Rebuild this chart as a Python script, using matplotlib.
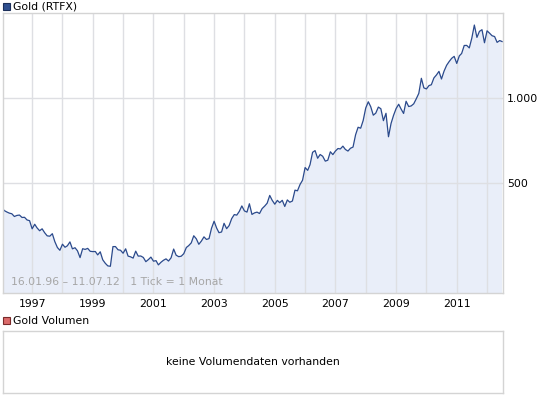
import matplotlib
matplotlib.use('Agg')
import matplotlib.dates as mdates
import matplotlib.pyplot as plt
import matplotlib.ticker as ticker
import pandas as pd
from matplotlib.patches import Rectangle

# Gold (RTFX), month-end values in USD, one tick per month
gold_1996 = [405.6, 400.7, 396.4, 392.6, 390.6, 382.0, 385.3, 386.5, 379.0, 379.5, 371.3, 369.3]
gold_1997 = [345.5, 358.6, 348.2, 340.2, 345.6, 334.6, 326.4, 325.4, 332.1, 311.4, 296.8, 290.2]
gold_1998 = [304.9, 297.4, 301.0, 310.7, 293.6, 296.3, 288.9, 273.4, 293.9, 292.3, 294.7, 287.8]
gold_1999 = [287.1, 287.3, 279.5, 286.6, 268.6, 261.0, 255.6, 254.8, 299.0, 299.1, 291.4, 290.3]
gold_2000 = [283.3, 293.7, 276.8, 275.1, 272.3, 288.2, 276.8, 277.0, 273.7, 264.5, 269.1, 274.5]
gold_2001 = [265.6, 266.7, 257.7, 263.2, 267.5, 270.6, 265.9, 273.0, 293.1, 278.8, 275.5, 276.5]
gold_2002 = [282.3, 296.9, 301.4, 308.2, 326.6, 318.5, 304.7, 312.8, 323.7, 316.9, 319.1, 347.2]
gold_2003 = [367.5, 347.5, 334.9, 336.8, 361.4, 346.0, 354.8, 375.6, 388.0, 386.3, 398.4, 416.3]
gold_2004 = [399.8, 395.9, 423.7, 388.5, 393.3, 395.8, 391.4, 407.3, 415.7, 425.6, 453.4, 435.6]
gold_2005 = [422.2, 435.5, 427.5, 435.7, 414.5, 437.1, 429.0, 433.3, 473.3, 470.8, 495.7, 513.0]
gold_2006 = [568.8, 556.0, 582.0, 644.0, 653.0, 613.5, 632.5, 623.5, 599.3, 603.8, 646.7, 632.0]
gold_2007 = [650.5, 664.2, 661.8, 677.0, 659.1, 650.5, 665.5, 672.0, 743.0, 789.5, 783.5, 833.8]
gold_2008 = [923.3, 971.5, 933.5, 871.0, 885.8, 930.3, 918.0, 833.0, 884.5, 730.8, 814.5, 869.8]
gold_2009 = [919.5, 952.0, 916.5, 883.3, 975.5, 934.5, 939.0, 955.5, 995.8, 1040.0, 1175.8, 1087.5]
gold_2010 = [1078.5, 1108.3, 1115.5, 1179.3, 1207.5, 1244.0, 1169.0, 1246.0, 1307.0, 1346.8, 1383.5, 1405.5]
gold_2011 = [1327.0, 1411.0, 1439.0, 1535.5, 1536.5, 1505.5, 1628.5, 1813.5, 1640.0, 1722.0, 1746.0, 1570.0]
gold_2012 = [1730.0, 1696.3, 1662.5, 1651.3, 1575.0, 1598.5, 1585.0]

year_ticks = list(range(1997, 2013))
year_labels = [str(y) if y % 2 else '' for y in year_ticks]
price_ticks = [500, 1000]
price_labels = ['500', '1.000']

values = (gold_1996 + gold_1997 + gold_1998 + gold_1999 + gold_2000 + gold_2001 +
          gold_2002 + gold_2003 + gold_2004 + gold_2005 + gold_2006 + gold_2007 +
          gold_2008 + gold_2009 + gold_2010 + gold_2011 + gold_2012)
dates = pd.date_range('1996-01-01', periods=len(values), freq='MS')
dates = dates.to_series().reset_index(drop=True)
dates[0] = pd.Timestamp('1996-01-16')

line_color = '#2b4a8c'
fill_color = '#e9eef9'
grid_color = '#dedfe3'
frame_color = '#d4d4d4'
font_size = 7.8

W, H = 545, 398
figure = plt.figure(figsize=(W / 100, H / 100), dpi=100)


def box(left, top, right, bottom):
    return [left / W, 1 - bottom / H, (right - left) / W, (bottom - top) / H]


axes = figure.add_axes(box(3, 13, 503, 293))
axes.fill_between(dates, values, 1, color=fill_color, linewidth=0)
axes.plot(dates, values, color=line_color, linewidth=0.9)
axes.set_yscale('log')
axes.set_ylim(205, 2000)
axes.set_xlim(pd.Timestamp('1996-01-16'), pd.Timestamp('2012-07-11'))

axes.set_xticks([mdates.date2num(pd.Timestamp(y, 1, 1)) for y in year_ticks])
axes.set_xticklabels(year_labels, fontsize=font_size)
axes.yaxis.set_major_locator(ticker.FixedLocator(price_ticks))
axes.yaxis.set_minor_locator(ticker.NullLocator())
axes.set_yticklabels(price_labels, fontsize=font_size)
axes.yaxis.tick_right()
axes.tick_params(length=0, pad=3)
axes.tick_params(axis='x', pad=4)
axes.grid(True, color=grid_color, linewidth=1)
for spine in axes.spines.values():
    spine.set_color(frame_color)
    spine.set_linewidth(1)
for gl in axes.get_xgridlines() + axes.get_ygridlines():
    gl.set_zorder(0.5)

axes.text(8 / 500, 0.022, '16.01.96 \u2013 11.07.12   1 Tick = 1 Monat',
          transform=axes.transAxes, fontsize=font_size, color='#a6a6a6',
          ha='left', va='bottom')

# legend headers
figure.patches.append(Rectangle((3 / W, 1 - 10 / H), 7 / W, 7 / H, transform=figure.transFigure,
                                facecolor='#2f4f8f', edgecolor='#1c2f5a', linewidth=0.8))
figure.text(13 / W, 1 - 6.5 / H, 'Gold (RTFX)', fontsize=font_size, va='center', ha='left')
figure.patches.append(Rectangle((3 / W, 1 - 324 / H), 7 / W, 7 / H, transform=figure.transFigure,
                                facecolor='#dc6b6b', edgecolor='#7a2a2a', linewidth=0.8))
figure.text(13 / W, 1 - 320.5 / H, 'Gold Volumen', fontsize=font_size, va='center', ha='left')

# volume panel
volume = figure.add_axes(box(3, 331, 503, 393))
volume.set_xticks([])
volume.set_yticks([])
for spine in volume.spines.values():
    spine.set_color(frame_color)
    spine.set_linewidth(1)
volume.text(0.5, 0.5, 'keine Volumendaten vorhanden', transform=volume.transAxes,
            fontsize=font_size, ha='center', va='center')

figure.savefig('out.png', dpi=100)
